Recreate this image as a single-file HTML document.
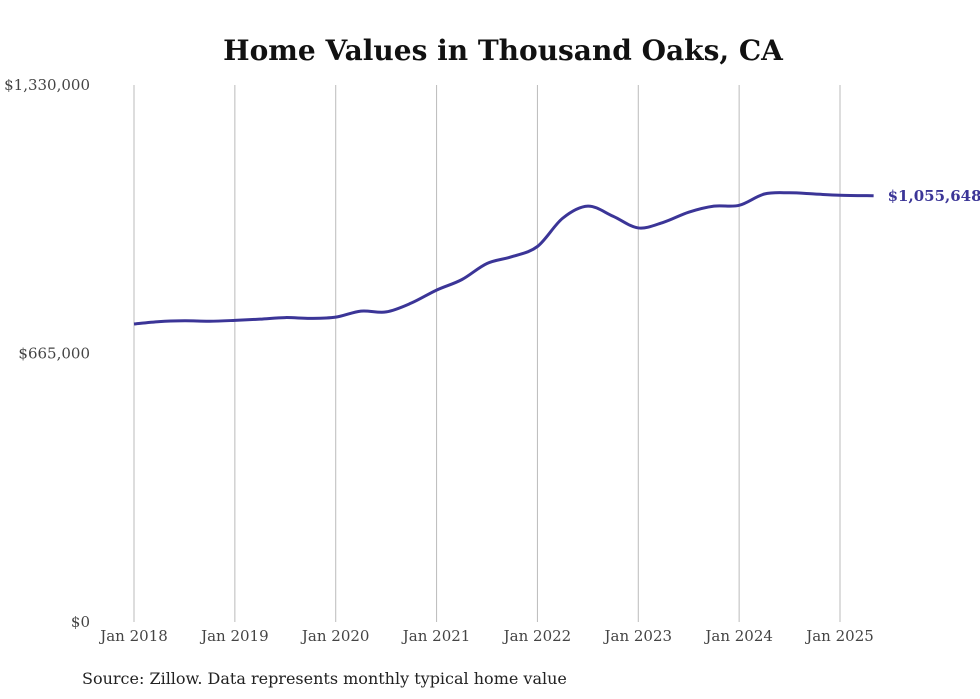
<!DOCTYPE html>
<html><head><meta charset="utf-8"><style>
body{margin:0;background:#fff;}
svg{display:block;font-family:"DejaVu Serif","Liberation Serif",serif;}
</style></head><body>
<svg width="980" height="699">
<text x="503" y="60" text-anchor="middle" font-size="28" font-weight="bold" fill="#111">Home Values in Thousand Oaks, CA</text>
<g id="grid"></g><g id="yt"></g><g id="xt"></g>
<path id="line" fill="none" stroke="#3b3597" stroke-width="3"/>
<text id="endlbl" font-size="15" font-weight="bold" fill="#3b3597"></text>
<text x="82" y="684" font-size="16" fill="#222">Source: Zillow. Data represents monthly typical home value</text>
</svg>
<script>
const months=[0,3,6,9,12,15,18,21,24,27,30,33,36,39,42,45,48,51,54,57,60,63,66,69,72,75,78,81,84,88];
const values=[738000,744000,746000,745000,747000,750000,754000,752000,755000,770000,768000,790000,822000,848000,888000,905000,930000,1000000,1030000,1005000,976000,990000,1015000,1030000,1032000,1060000,1063000,1060000,1057000,1055648];
const yTicks=[0,665000,1330000];
const yLabels=["$0","$665,000","$1,330,000"];
const xYears=["Jan 2018","Jan 2019","Jan 2020","Jan 2021","Jan 2022","Jan 2023","Jan 2024","Jan 2025"];
const NS="http://www.w3.org/2000/svg";
const x=m=>134+m*(706/84);
const y=v=>622-v/1330000*537;
const grid=document.getElementById('grid'),xt=document.getElementById('xt'),yt=document.getElementById('yt');
xYears.forEach((l,i)=>{
 const ln=document.createElementNS(NS,'line');
 
 
 ln.setAttribute('x1',x(i*12));ln.setAttribute('x2',x(i*12));ln.setAttribute('y1',85);ln.setAttribute('y2',622);
 ln.setAttribute('stroke','#bbb');ln.setAttribute('stroke-width','1');grid.appendChild(ln);
 const t=document.createElementNS(NS,'text');
 
 
 t.setAttribute('x',x(i*12));t.setAttribute('y',641);t.setAttribute('text-anchor','middle');
 t.setAttribute('font-size','15');t.setAttribute('fill','#444');t.textContent=l;xt.appendChild(t);
});
yTicks.forEach((v,i)=>{
 const t=document.createElementNS(NS,'text');
 
 
 t.setAttribute('x',90);t.setAttribute('y',y(v)+5);t.setAttribute('text-anchor','end');
 t.setAttribute('font-size','15');t.setAttribute('fill','#444');t.textContent=yLabels[i];yt.appendChild(t);
});
const pts=months.map((m,i)=>[x(m),y(values[i])]);
let d='M'+pts[0][0]+','+pts[0][1];
for(let i=0;i<pts.length-1;i++){
 const p0=pts[i-1]||pts[i],p1=pts[i],p2=pts[i+1],p3=pts[i+2]||p2;
 const c1=[p1[0]+(p2[0]-p0[0])/6,p1[1]+(p2[1]-p0[1])/6],c2=[p2[0]-(p3[0]-p1[0])/6,p2[1]-(p3[1]-p1[1])/6];
 d+=` C${c1[0]},${c1[1]} ${c2[0]},${c2[1]} ${p2[0]},${p2[1]}`;
}
document.getElementById('line').setAttribute('d',d);
const last=pts[pts.length-1],el=document.getElementById('endlbl');
el.setAttribute('x',last[0]+14);el.setAttribute('y',last[1]+5);
el.textContent='$'+values[values.length-1].toLocaleString('en-US');
</script>
</body></html>
